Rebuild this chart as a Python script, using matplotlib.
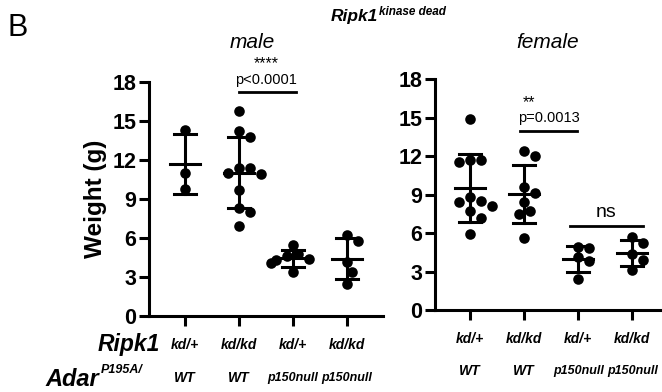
import numpy as np
import matplotlib
matplotlib.use("Agg")
import matplotlib.pyplot as plt

plt.rcParams['font.family'] = ['Liberation Sans', 'DejaVu Sans']

# weights (g)
male = [
    [14.3, 11.0, 9.8],
    [15.8, 14.2, 13.8, 11.4, 11.4, 11.0, 10.9, 9.7, 8.3, 8.0, 6.9],
    [5.5, 4.8, 4.6, 4.4, 4.3, 4.1, 3.4],
    [6.2, 5.8, 4.15, 3.4, 2.5],
]
female = [
    [14.9, 11.7, 11.5, 11.7, 8.5, 8.8, 8.4, 8.1, 7.7, 7.2, 5.9],
    [12.0, 12.4, 9.1, 9.6, 7.7, 8.4, 7.5, 5.6],
    [4.9, 4.8, 4.1, 3.8, 2.4],
    [5.7, 5.2, 4.4, 3.9, 3.1],
]
ripk1 = ['kd/+', 'kd/kd', 'kd/+', 'kd/kd']
adar = ['WT', 'WT', 'p150null', 'p150null']
yticks = [0, 3, 6, 9, 12, 15, 18]


def swarm(vals, dx, dy):
    # simple beeswarm: put each point at the nearest free slot
    order = np.argsort(vals)[::-1]
    placed = []
    offs = np.zeros(len(vals))
    for i in order:
        v = vals[i]
        for k in [0, 1, -1, 2, -2, 3, -3, 4, -4]:
            o = k * dx * 0.55
            ok = True
            for (po, pv) in placed:
                if ((o - po) / dx) ** 2 + ((v - pv) / dy) ** 2 < 1.0:
                    ok = False
                    break
            if ok:
                break
        offs[i] = o
        placed.append((o, v))
    return offs


fig = plt.figure(figsize=(6.62, 3.92), dpi=100)
W, H = 662.0, 392.0


def panel(left, right, bottom, top, xlim, groups):
    ax = fig.add_axes([left / W, 1 - bottom / H, (right - left) / W, (bottom - top) / H])
    ax.set_xlim(*xlim)
    ax.set_ylim(0, 18)
    ppu_x = (right - left) / (xlim[1] - xlim[0])
    ppu_y = (bottom - top) / 18.0
    for i, g in enumerate(groups):
        g = np.array(g)
        offs = swarm(g, 10.0 / ppu_x, 10.0 / ppu_y)
        ax.scatter(i + offs, g, s=58, color='black', zorder=3, linewidths=0)
        m, sd = g.mean(), g.std(ddof=1)
        ax.plot([i, i], [m - sd, m + sd], color='black', lw=2.2, zorder=2)
        ax.plot([i - 0.28, i + 0.28], [m, m], color='black', lw=2.2, zorder=2)
        for c in (m - sd, m + sd):
            ax.plot([i - 0.2, i + 0.2], [c, c], color='black', lw=2.2, zorder=2)
    ax.spines['top'].set_visible(False)
    ax.spines['right'].set_visible(False)
    ax.spines['left'].set_linewidth(2.2)
    ax.spines['bottom'].set_linewidth(2.2)
    ax.set_yticks(yticks)
    ax.set_yticklabels([str(t) for t in yticks], fontsize=15.5, fontweight='bold')
    ax.set_xticks(range(4))
    ax.set_xticklabels([])
    ax.tick_params(axis='both', width=2.2, length=7)
    ax.tick_params(axis='y', pad=2)
    return ax


ax1 = panel(149, 383, 316, 82, (-0.667, 3.667), male)
ax2 = panel(435, 662, 310, 79, (-0.65, 3.55), female)

ax1.set_ylabel('Weight (g)', fontsize=17.5, fontweight='bold', labelpad=4)

# significance annotations
ax1.plot([1, 2.05], [17.2, 17.2], color='black', lw=2, clip_on=False)
ax1.text(1.5, 17.65, 'p<0.0001', ha='center', va='bottom', fontsize=10.5)
ax1.text(1.5, 18.85, '****', ha='center', va='bottom', fontsize=11.5)
ax2.plot([0.93, 1.98], [13.95, 13.95], color='black', lw=2)
ax2.text(1.45, 14.4, 'p=0.0013', ha='center', va='bottom', fontsize=10.5)
ax2.text(0.97, 15.55, '**', ha='left', va='bottom', fontsize=11.5)
ax2.plot([1.85, 3.2], [6.55, 6.55], color='black', lw=2)
ax2.text(2.52, 6.95, 'ns', ha='center', va='bottom', fontsize=14)

# genotype labels under the axes
for ax in (ax1, ax2):
    for i in range(4):
        ax.text(i, -0.125, ripk1[i], transform=ax.get_xaxis_transform(), ha='center',
                va='center', fontsize=10, fontweight='bold', style='italic')
        ax.text(i, -0.265, adar[i], transform=ax.get_xaxis_transform(), ha='center',
                va='center', fontsize=9 if len(adar[i]) > 3 else 10,
                fontweight='bold', style='italic')

fig.text(160 / W, 1 - 345 / H, 'Ripk1', ha='right', va='center', fontsize=16.5,
         fontweight='bold', style='italic')
fig.text(99 / W, 1 - 380 / H, 'Adar', ha='right', va='center', fontsize=17,
         fontweight='bold', style='italic')
fig.text(101 / W, 1 - 370 / H, 'P195A/', ha='left', va='center', fontsize=9,
         fontweight='bold', style='italic')

# titles
fig.text(8 / W, 1 - 28 / H, 'B', ha='left', va='center', fontsize=22)
fig.text(378 / W, 1 - 17 / H, 'Ripk1', ha='right', va='center', fontsize=12.5,
         fontweight='bold', style='italic')
fig.text(379 / W, 1 - 12 / H, 'kinase dead', ha='left', va='center', fontsize=8.5,
         fontweight='bold', style='italic')
fig.text(252 / W, 1 - 42 / H, 'male', ha='center', va='center', fontsize=15, style='italic')
fig.text(548 / W, 1 - 42 / H, 'female', ha='center', va='center', fontsize=15, style='italic')

fig.savefig('out.png', dpi=100)
